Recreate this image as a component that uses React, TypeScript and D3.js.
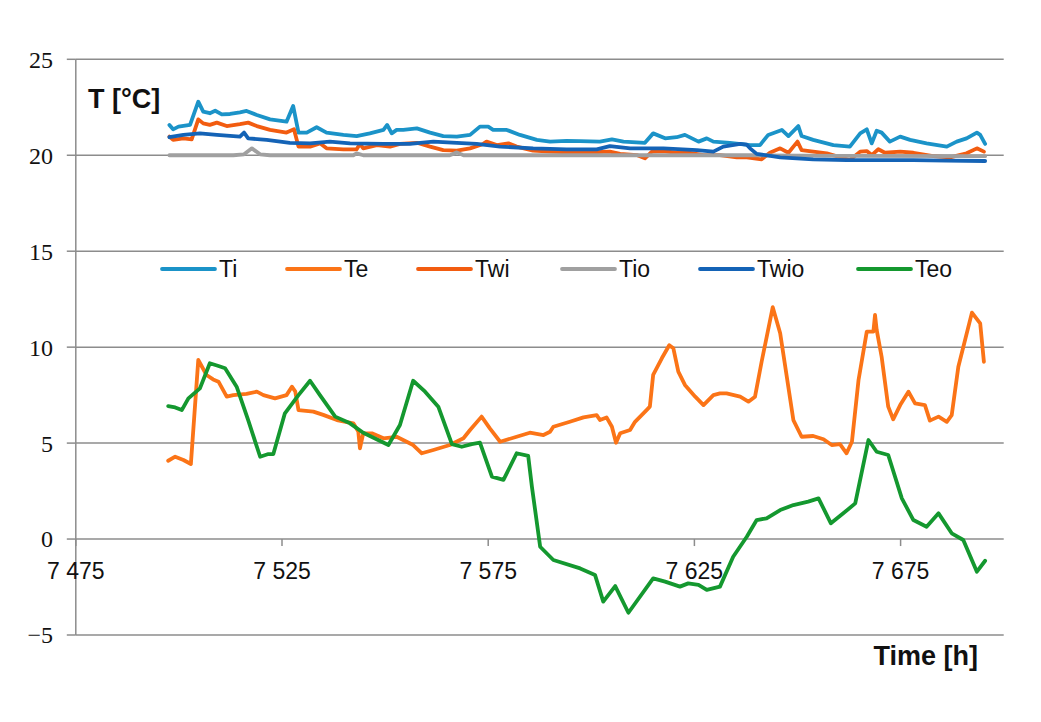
import * as d3 from "d3";

type Pt = [number, number];

// time [h], temperature [°C]
const ti: Pt[] = [
  [7497.7, 21.58], [7498.6, 21.35], [7499.9, 21.49], [7502.7, 21.58], [7504.7, 22.79], [7505.9, 22.27],
  [7507.5, 22.19], [7508.8, 22.32], [7510.4, 22.13], [7512.4, 22.15], [7514.8, 22.24], [7516.4, 22.31],
  [7518.9, 22.1], [7522.1, 21.87], [7526.1, 21.75], [7527.7, 22.57], [7529.0, 21.18], [7531.0, 21.18],
  [7533.4, 21.46], [7535.8, 21.18], [7539.9, 21.06], [7543.1, 21.0], [7546.3, 21.14], [7549.6, 21.32],
  [7550.5, 21.58], [7551.6, 21.14], [7552.8, 21.32], [7554.4, 21.32], [7557.7, 21.4], [7560.9, 21.18],
  [7564.1, 21.0], [7567.4, 20.97], [7570.6, 21.06], [7573.0, 21.49], [7575.0, 21.49], [7576.2, 21.32],
  [7579.5, 21.32], [7582.7, 21.06], [7586.8, 20.8], [7590.0, 20.71], [7594.0, 20.75], [7597.3, 20.74],
  [7602.1, 20.71], [7605.0, 20.83], [7607.8, 20.71], [7613.0, 20.65], [7615.0, 21.14], [7617.9, 20.88],
  [7620.7, 20.94], [7622.7, 21.06], [7626.0, 20.71], [7628.0, 20.88], [7629.6, 20.71], [7633.6, 20.65],
  [7638.5, 20.53], [7640.9, 20.53], [7642.9, 21.06], [7646.2, 21.32], [7647.8, 21.0], [7650.2, 21.52],
  [7651.0, 21.0], [7653.8, 20.8], [7658.7, 20.53], [7662.7, 20.45], [7665.2, 21.14], [7666.8, 21.35],
  [7668.0, 20.62], [7669.2, 21.28], [7670.4, 21.18], [7672.4, 20.71], [7674.9, 20.97], [7677.3, 20.8],
  [7681.3, 20.62], [7686.2, 20.45], [7688.6, 20.71], [7691.0, 20.88], [7693.5, 21.18], [7694.3, 21.06],
  [7695.5, 20.59],
];

const te: Pt[] = [
  [7497.4, 4.08], [7499.1, 4.29], [7501.1, 4.12], [7502.9, 3.91], [7504.7, 9.33], [7506.7, 8.55],
  [7508.3, 8.32], [7509.6, 8.2], [7511.6, 7.42], [7513.2, 7.5], [7516.4, 7.56], [7518.9, 7.68],
  [7520.5, 7.5], [7523.3, 7.33], [7526.1, 7.5], [7527.4, 7.94], [7528.2, 7.7], [7529.0, 6.72],
  [7532.6, 6.64], [7535.0, 6.47], [7538.3, 6.2], [7542.3, 6.03], [7543.5, 5.6], [7543.9, 4.73],
  [7544.7, 5.51], [7546.8, 5.51], [7549.6, 5.25], [7552.8, 5.33], [7556.8, 4.9], [7558.9, 4.47],
  [7561.7, 4.64], [7565.7, 4.9], [7569.0, 5.25], [7570.6, 5.68], [7573.4, 6.38], [7575.4, 5.77],
  [7577.9, 5.07], [7581.9, 5.33], [7585.1, 5.54], [7588.4, 5.42], [7590.0, 5.59], [7590.8, 5.85],
  [7594.8, 6.11], [7598.1, 6.34], [7601.3, 6.46], [7602.1, 6.2], [7603.7, 6.34], [7605.0, 5.85],
  [7606.0, 5.02], [7607.0, 5.51], [7609.4, 5.68], [7610.6, 6.11], [7613.4, 6.72], [7614.2, 6.9],
  [7615.0, 8.55], [7617.1, 9.42], [7618.9, 10.1], [7619.9, 9.94], [7621.1, 8.72], [7622.7, 8.03],
  [7625.2, 7.42], [7627.2, 6.98], [7629.6, 7.5], [7631.2, 7.59], [7632.8, 7.59], [7636.1, 7.42],
  [7638.1, 7.16], [7639.7, 7.42], [7641.3, 9.24], [7644.0, 12.08], [7645.8, 10.72], [7649.0, 6.2],
  [7651.0, 5.33], [7653.8, 5.37], [7656.3, 5.2], [7658.3, 4.9], [7660.3, 4.95], [7661.9, 4.47],
  [7663.2, 5.07], [7664.8, 8.29], [7666.8, 10.81], [7668.4, 10.81], [7668.8, 11.68], [7669.2, 10.9],
  [7670.4, 9.5], [7672.0, 6.9], [7673.2, 6.24], [7674.9, 6.98], [7676.9, 7.68], [7678.5, 7.07],
  [7680.9, 6.98], [7682.1, 6.17], [7684.2, 6.38], [7686.2, 6.11], [7687.4, 6.46], [7689.0, 8.98],
  [7692.3, 11.8], [7694.3, 11.24], [7695.2, 9.24],
];

const twi: Pt[] = [
  [7497.7, 20.97], [7498.6, 20.8], [7501.1, 20.88], [7503.1, 20.83], [7504.7, 21.87], [7505.9, 21.66],
  [7507.5, 21.58], [7509.2, 21.7], [7511.6, 21.52], [7514.8, 21.62], [7516.8, 21.7], [7518.9, 21.52],
  [7522.1, 21.32], [7526.1, 21.18], [7527.9, 21.35], [7529.0, 20.45], [7531.8, 20.45], [7534.2, 20.62],
  [7535.8, 20.36], [7539.9, 20.31], [7543.1, 20.31], [7543.9, 20.59], [7544.7, 20.36], [7548.0, 20.53],
  [7551.2, 20.45], [7553.6, 20.59], [7557.7, 20.65], [7560.9, 20.45], [7564.1, 20.27], [7567.4, 20.24],
  [7570.6, 20.36], [7573.8, 20.59], [7574.6, 20.71], [7577.1, 20.53], [7579.9, 20.62], [7581.9, 20.45],
  [7585.9, 20.24], [7590.0, 20.19], [7597.3, 20.13], [7604.5, 20.19], [7607.0, 20.07], [7611.0, 20.01],
  [7613.0, 19.84], [7614.7, 20.19], [7617.5, 20.22], [7620.7, 20.13], [7623.9, 20.13], [7627.2, 20.01],
  [7631.2, 20.01], [7635.3, 19.89], [7637.7, 19.89], [7641.3, 19.79], [7643.3, 20.13], [7645.8, 20.36],
  [7647.8, 20.13], [7650.0, 20.71], [7651.0, 20.27], [7653.8, 20.19], [7657.1, 20.1], [7662.7, 19.75],
  [7665.2, 20.19], [7666.8, 20.22], [7668.0, 20.01], [7669.6, 20.31], [7671.2, 20.13], [7674.9, 20.19],
  [7678.1, 20.13], [7682.9, 19.96], [7687.0, 19.89], [7691.0, 20.1], [7693.5, 20.36], [7695.2, 20.19],
];

const tio: Pt[] = [
  [7497.7, 20.0], [7513.2, 20.0], [7515.8, 20.05], [7517.7, 20.36], [7519.7, 20.05], [7522.1, 20.0],
  [7542.3, 20.0], [7543.1, 20.1], [7544.7, 20.0], [7565.7, 20.0], [7567.4, 20.15], [7569.0, 20.0],
  [7600.0, 20.0], [7640.0, 20.0], [7660.0, 19.97], [7695.5, 19.95],
];

const twio: Pt[] = [
  [7497.7, 20.94], [7501.1, 21.06], [7505.1, 21.14], [7509.2, 21.06], [7514.8, 20.97], [7515.8, 21.18],
  [7516.8, 20.88], [7521.3, 20.8], [7526.9, 20.65], [7531.8, 20.62], [7536.6, 20.71], [7541.5, 20.62],
  [7549.6, 20.59], [7556.0, 20.59], [7561.7, 20.71], [7567.4, 20.65], [7572.2, 20.59], [7577.9, 20.45],
  [7585.9, 20.36], [7594.0, 20.31], [7601.3, 20.31], [7604.5, 20.48], [7609.4, 20.36], [7617.5, 20.36],
  [7625.6, 20.27], [7629.6, 20.19], [7632.0, 20.45], [7636.1, 20.59], [7637.7, 20.55], [7638.5, 20.36],
  [7640.1, 20.07], [7645.8, 19.89], [7653.8, 19.79], [7661.9, 19.75], [7670.0, 19.75], [7678.1, 19.75],
  [7686.2, 19.72], [7695.5, 19.7],
];

const teo: Pt[] = [
  [7497.4, 6.93], [7499.1, 6.86], [7500.7, 6.72], [7502.3, 7.33], [7505.1, 7.85], [7507.5, 9.16],
  [7509.6, 9.02], [7511.2, 8.9], [7514.0, 7.94], [7516.8, 6.2], [7519.7, 4.29], [7521.7, 4.43],
  [7522.9, 4.43], [7525.7, 6.55], [7529.0, 7.5], [7531.8, 8.25], [7534.2, 7.5], [7537.9, 6.38],
  [7541.5, 6.03], [7544.7, 5.54], [7550.8, 4.9], [7553.6, 5.94], [7556.8, 8.25], [7559.7, 7.68],
  [7562.9, 6.9], [7566.2, 4.95], [7568.6, 4.81], [7571.0, 4.95], [7573.0, 5.02], [7575.9, 3.25],
  [7578.7, 3.08], [7581.9, 4.47], [7584.7, 4.33], [7585.6, 2.73], [7587.6, -0.4], [7590.8, -1.09],
  [7597.3, -1.53], [7600.9, -1.87], [7602.9, -3.26], [7605.8, -2.45], [7609.0, -3.84], [7615.0, -2.05],
  [7617.9, -2.22], [7621.5, -2.48], [7623.5, -2.31], [7626.0, -2.39], [7628.0, -2.65], [7631.2, -2.48],
  [7634.4, -0.92], [7637.7, 0.12], [7640.1, 0.99], [7642.5, 1.08], [7645.8, 1.51], [7649.0, 1.77],
  [7652.6, 1.95], [7655.1, 2.12], [7658.1, 0.82], [7661.1, 1.34], [7664.0, 1.86], [7667.2, 5.16],
  [7669.2, 4.55], [7672.0, 4.38], [7675.3, 2.12], [7678.1, 0.99], [7681.3, 0.64], [7684.2, 1.34],
  [7687.4, 0.3], [7690.2, -0.05], [7693.5, -1.7], [7695.5, -1.13],
];

const yTicks = [-5, 0, 5, 10, 15, 20, 25];
const xTicks = [7475, 7525, 7575, 7625, 7675];

const series = [
  { name: "Ti", data: ti, color: "#1b93c8" },
  { name: "Te", data: te, color: "#fb7417" },
  { name: "Twi", data: twi, color: "#f25c10" },
  { name: "Tio", data: tio, color: "#a0a0a0" },
  { name: "Twio", data: twio, color: "#1463b6" },
  { name: "Teo", data: teo, color: "#14982f" },
];

const legendX = [162, 287, 418, 562, 700, 858];

const W = 1041;
const H = 722;
const x = d3.scaleLinear().domain([7475, 7700]).range([75.8, 1003.7]);
const y = d3.scaleLinear().domain([-5, 25]).range([635, 59.3]);

const fmtX = (v: number) => {
  const s = String(v);
  return s.slice(0, 1) + " " + s.slice(1);
};

const App = () => {
  const line = d3
    .line<Pt>()
    .x((d) => x(d[0]))
    .y((d) => y(d[1]))
    .curve(d3.curveLinear);

  const sans = "'Liberation Sans', Arial, sans-serif";

  return (
    <svg width={W} height={H} style={{ position: "absolute", left: 0, top: 0, background: "#fff" }}>
      {/* gridlines */}
      {yTicks.map((t) => (
        <line key={t} x1={x(7475)} x2={x(7700)} y1={y(t)} y2={y(t)} stroke="#8c8c8c" strokeWidth={1.5} />
      ))}
      {/* y axis */}
      <line x1={x(7475)} x2={x(7475)} y1={y(25)} y2={y(-5)} stroke="#8c8c8c" strokeWidth={1.5} />
      {yTicks.map((t) => (
        <g key={"yt" + t}>
          <line x1={x(7475) - 9} x2={x(7475)} y1={y(t)} y2={y(t)} stroke="#8c8c8c" strokeWidth={1.5} />
          <text
            x={53}
            y={y(t)}
            dy="0.35em"
            textAnchor="end"
            fontFamily="'Liberation Serif', 'Times New Roman', serif"
            fontSize={24}
            fill="#111"
          >
            {t < 0 ? "\u2212" + Math.abs(t) : t}
          </text>
        </g>
      ))}
      {/* x ticks on zero line */}
      {xTicks.map((t) => (
        <g key={"xt" + t}>
          <line x1={x(t)} x2={x(t)} y1={y(0)} y2={y(0) + 7} stroke="#8c8c8c" strokeWidth={1.5} />
          <text x={x(t)} y={579} textAnchor="middle" fontFamily={sans} fontSize={23} fill="#111">
            {fmtX(t)}
          </text>
        </g>
      ))}

      {/* series */}
      {series.map((s) => (
        <path
          key={s.name}
          d={line(s.data) ?? ""}
          fill="none"
          stroke={s.color}
          strokeWidth={3.8}
          strokeLinejoin="round"
          strokeLinecap="round"
        />
      ))}

      {/* legend */}
      {series.map((s, i) => (
        <g key={"lg" + s.name}>
          <line x1={legendX[i]} x2={legendX[i] + 53} y1={269} y2={269} stroke={s.color} strokeWidth={3.8} strokeLinecap="round" />
          <text x={legendX[i] + 57} y={277} fontFamily={sans} fontSize={23} fill="#111">
            {s.name}
          </text>
        </g>
      ))}

      {/* axis titles */}
      <text x={88} y={108} fontFamily={sans} fontSize={27} fontWeight="bold" fill="#111">
        T [°C]
      </text>
      <text x={978} y={665} textAnchor="end" fontFamily={sans} fontSize={27} fontWeight="bold" fill="#111">
        Time [h]
      </text>
    </svg>
  );
};

export default App;
